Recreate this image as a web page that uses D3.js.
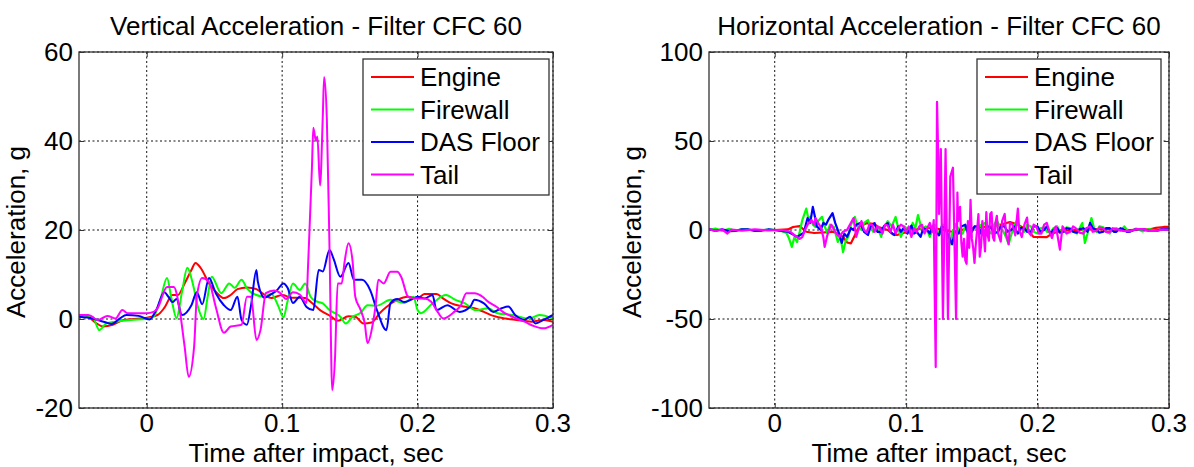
<!doctype html>
<html>
<head>
<meta charset="utf-8"/>
<title>Acceleration - Filter CFC 60</title>
<script src="https://d3js.org/d3.v7.min.js"></script>
<style>
body { margin: 0; background: white; }
text { font-family: 'Liberation Sans', Arial, sans-serif; fill: black; }
</style>
</head>
<body>
<svg id="svg1"></svg>
<script>
// series names and colors (legend order)
const names = ['Engine', 'Firewall', 'DAS Floor', 'Tail']
const colors = ['#ff0000', '#00ff00', '#0000ff', '#ff00ff']

const xTicks = [0, 0.1, 0.2, 0.3]
const xTickLabels = ['0', '0.1', '0.2', '0.3']
const vTicks = [-20, 0, 20, 40, 60]
const hTicks = [-100, -50, 0, 50, 100]

// vertical acceleration, [time s, g]
const vEngine = [[-0.05,0.5],[-0.046,0.9],[-0.037,-1],[-0.032,-1.7],[-0.025,-1.3],[-0.017,-0.2],[-0.002,0.2],[0.008,0.9],[0.013,2.5],[0.019,5.4],[0.023,5.4],[0.028,8],[0.033,11],[0.036,12.6],[0.04,11.4],[0.046,8],[0.052,5.8],[0.057,4.7],[0.062,5.4],[0.067,6.7],[0.074,7.1],[0.081,6.7],[0.087,5.4],[0.092,4.7],[0.1,5.4],[0.107,4.8],[0.117,4.7],[0.122,3.6],[0.128,2],[0.136,0.6],[0.141,-0.4],[0.149,0.6],[0.154,0.5],[0.16,-1],[0.166,-0.8],[0.172,1.3],[0.177,2.7],[0.185,4.3],[0.193,5],[0.2,4.6],[0.205,5.6],[0.214,5.6],[0.219,4.6],[0.225,3.5],[0.234,2.8],[0.242,2.4],[0.249,1.6],[0.256,0.7],[0.265,0.1],[0.273,-0.2],[0.284,-0.6],[0.293,-0.2],[0.3,-0.6]]
const vFirewall = [[-0.05,0.9],[-0.04,0.5],[-0.035,-2.5],[-0.03,-1],[-0.023,-0.6],[-0.012,-0.2],[0,0],[0.005,0.5],[0.01,4.3],[0.015,9.2],[0.018,5],[0.022,0.2],[0.026,6],[0.03,11.5],[0.034,8],[0.038,2.5],[0.042,0],[0.045,5],[0.048,9.5],[0.055,5.8],[0.061,8],[0.065,7],[0.07,8.8],[0.074,6.9],[0.08,5.5],[0.087,5],[0.092,5.7],[0.097,3],[0.101,0.4],[0.104,4],[0.108,8],[0.113,6.5],[0.117,8],[0.121,5],[0.125,4],[0.13,3.5],[0.135,2],[0.143,0.5],[0.147,-1],[0.152,0.5],[0.158,1.4],[0.163,3.1],[0.17,3],[0.18,4.3],[0.19,3.6],[0.197,5],[0.2,2],[0.2025,1.3],[0.211,3.5],[0.221,5.4],[0.228,4.3],[0.235,3.5],[0.243,2],[0.252,2.4],[0.259,1.3],[0.27,0.9],[0.282,0.1],[0.29,0.9],[0.3,0.1]]
const vFloor = [[-0.05,0.5],[-0.04,0.1],[-0.032,-0.6],[-0.026,-1.1],[-0.02,0.1],[-0.015,0.9],[-0.006,0.7],[0.002,-0.1],[0.007,2],[0.013,6],[0.016,5],[0.019,3.8],[0.022,4.5],[0.026,0.9],[0.033,3.1],[0.037,6],[0.041,3.3],[0.046,9.2],[0.051,5.8],[0.057,3.1],[0.062,2],[0.067,5],[0.07,-0.2],[0.074,-1.3],[0.077,3],[0.081,11],[0.082,8.5],[0.087,4.8],[0.092,5.6],[0.096,6.4],[0.101,8],[0.104,7],[0.108,3.6],[0.113,5],[0.118,2.7],[0.123,2],[0.127,11],[0.13,10.7],[0.135,15.5],[0.138,13.5],[0.143,9.5],[0.149,12.6],[0.153,8.8],[0.159,8.8],[0.165,6.5],[0.17,2],[0.177,-2.5],[0.18,3.6],[0.185,4.5],[0.19,3.8],[0.195,4.3],[0.2,5],[0.205,4.6],[0.211,5.4],[0.214,2],[0.222,3.1],[0.231,1.6],[0.239,2.8],[0.242,4.3],[0.249,3.5],[0.256,1.6],[0.262,2.4],[0.267,2.8],[0.272,0.9],[0.279,-0.2],[0.283,0.5],[0.287,-1],[0.293,-0.2],[0.3,0.9]]
const vTail = [[-0.05,0.9],[-0.043,0.9],[-0.036,-0.2],[-0.029,0.7],[-0.023,0.1],[-0.018,2],[-0.014,1.3],[0,1.3],[0.005,1.6],[0.008,2.4],[0.015,7.2],[0.02,7.2],[0.024,2.7],[0.028,-6.2],[0.031,-13],[0.035,-6.2],[0.037,5],[0.041,9.2],[0.046,8.3],[0.051,2.7],[0.057,-3.1],[0.062,-1.7],[0.07,-1.3],[0.074,5],[0.077,5],[0.081,-4.7],[0.084,-2.5],[0.088,5.8],[0.094,6.4],[0.098,6],[0.103,4.5],[0.108,6],[0.113,5.5],[0.118,3.6],[0.119,11],[0.122,34],[0.123,43],[0.125,40],[0.126,41],[0.128,30],[0.13,45.4],[0.131,54.4],[0.133,45],[0.135,15.5],[0.137,-16],[0.139,-9],[0.141,8],[0.144,8],[0.146,12.6],[0.149,17],[0.152,13],[0.154,5],[0.158,2],[0.161,-1],[0.163,-5.4],[0.167,-1],[0.169,3],[0.171,8.8],[0.175,8],[0.18,10.6],[0.185,10.6],[0.188,9.4],[0.193,5],[0.197,4.7],[0.2,4.6],[0.205,4.6],[0.21,3.9],[0.214,2],[0.219,0.1],[0.227,1.6],[0.232,3.1],[0.236,5.8],[0.242,5.8],[0.248,5],[0.252,3.9],[0.258,2.8],[0.263,1.6],[0.27,0.5],[0.279,-0.6],[0.286,-1.6],[0.293,-2.1],[0.3,-1.3]]

// horizontal acceleration, [time s, g]
const hEngine = [[-0.05,0],[0,0],[0.01,0.3],[0.014,1.7],[0.019,2.2],[0.024,-1],[0.03,-1.7],[0.044,-1],[0.048,-2],[0.052,-3.9],[0.055,-7],[0.058,-7.5],[0.061,-3],[0.064,1.7],[0.07,3.9],[0.075,3.5],[0.079,1.7],[0.086,0],[0.09,-2.5],[0.093,-2.8],[0.098,-1.7],[0.106,0],[0.115,1.5],[0.125,0.5],[0.135,-1],[0.145,0.5],[0.155,1.5],[0.165,2],[0.172,3],[0.179,4.5],[0.185,3],[0.192,0],[0.197,-3.9],[0.207,-4],[0.211,-2],[0.218,-0.5],[0.23,0],[0.25,0.5],[0.27,0],[0.285,0.3],[0.29,1.2],[0.296,1.7],[0.3,1.7]]
const hFirewall = [[-0.05,0],[-0.045,0.8],[-0.04,-0.5],[-0.035,0.6],[-0.03,-0.4],[-0.025,0.4],[-0.02,0.3],[-0.015,-0.4],[-0.01,-0.3],[-0.005,0.3],[0,0],[0.005,-0.5],[0.009,-1.7],[0.011,-5],[0.013,-9.5],[0.015,-4],[0.017,-6.7],[0.019,-1],[0.021,5.6],[0.024,12],[0.026,5],[0.027,7.4],[0.029,3],[0.031,1.7],[0.033,5],[0.036,7.4],[0.038,2],[0.04,-1.7],[0.042,3],[0.045,1.7],[0.048,-6.7],[0.05,-4],[0.052,-12.4],[0.054,-6],[0.056,-3.9],[0.058,3],[0.061,7.3],[0.063,2],[0.066,0],[0.068,4],[0.071,5.6],[0.073,1],[0.075,-1],[0.078,2],[0.081,-3.9],[0.083,1],[0.086,5],[0.089,2],[0.092,7.3],[0.094,1],[0.096,-3.9],[0.099,2],[0.101,0],[0.103,-2],[0.105,4],[0.107,1],[0.109,8.4],[0.112,0],[0.115,2],[0.118,-3.9],[0.12,0],[0.122,3],[0.124,-1],[0.126,-2],[0.128,3],[0.13,2],[0.133,-8.4],[0.135,-2],[0.138,3.4],[0.14,0],[0.143,-2],[0.145,2],[0.148,3],[0.15,-1],[0.152,2],[0.154,0],[0.157,3],[0.16,4],[0.162,0],[0.165,-2],[0.167,3],[0.169,5.6],[0.171,2],[0.174,-1],[0.176,-4],[0.178,-8],[0.181,0],[0.184,5],[0.187,1],[0.19,-1],[0.192,3],[0.195,2],[0.197,-1],[0.2,-2],[0.202,1],[0.205,1.5],[0.207,-1],[0.21,-1.5],[0.212,1],[0.215,2],[0.217,-1],[0.22,-1],[0.222,1.5],[0.225,1],[0.227,-1],[0.23,-2],[0.232,1],[0.234,3.9],[0.236,-7.3],[0.238,-2],[0.241,6.7],[0.243,1],[0.245,-1],[0.247,2],[0.25,1.5],[0.252,-1],[0.255,-2],[0.257,0.5],[0.26,1],[0.263,-0.5],[0.266,2],[0.268,0],[0.27,-1],[0.275,0.8],[0.28,-0.8],[0.285,0.5],[0.29,-0.5],[0.295,0.3],[0.3,0]]
const hFloor = [[-0.05,0.5],[-0.045,-0.5],[-0.04,0.4],[-0.035,-0.6],[-0.03,-0.5],[-0.025,0.4],[-0.02,0.3],[-0.015,-0.5],[-0.01,-0.3],[-0.005,0.3],[0,0],[0.005,-0.5],[0.01,-1],[0.014,-2.5],[0.017,-3.9],[0.02,-2.5],[0.022,-1.7],[0.025,6.7],[0.027,4],[0.029,13],[0.031,6],[0.032,2],[0.035,0],[0.037,4],[0.039,3],[0.041,6],[0.044,9.5],[0.046,4],[0.047,2],[0.049,-2],[0.051,-7.3],[0.053,-2],[0.055,-3.9],[0.058,1],[0.06,0],[0.062,3],[0.065,4],[0.068,-1],[0.071,-2.8],[0.073,2],[0.076,3.9],[0.078,-1],[0.081,-1],[0.083,2],[0.086,3.9],[0.088,-1],[0.091,-2.8],[0.094,2],[0.096,-1],[0.098,1],[0.101,-2],[0.104,2.5],[0.106,-2],[0.108,-1],[0.111,-3.9],[0.113,1],[0.116,0],[0.118,-2],[0.12,2],[0.122,-1],[0.125,-3],[0.127,2],[0.13,1],[0.132,-3],[0.135,-8],[0.137,-1],[0.14,-2],[0.142,2],[0.145,3],[0.147,-2],[0.15,-1],[0.152,2],[0.155,2],[0.157,-2],[0.16,-2],[0.162,2],[0.165,1],[0.167,-2],[0.17,-1],[0.172,2],[0.175,2],[0.177,-1],[0.18,0],[0.182,2],[0.185,-2],[0.187,1],[0.19,1],[0.192,-1],[0.195,-1],[0.197,2],[0.2,2],[0.202,-1],[0.205,0],[0.207,2],[0.21,-2],[0.212,0],[0.215,1],[0.217,-1.5],[0.22,-1],[0.222,1],[0.225,0.5],[0.227,-1],[0.23,-1.5],[0.232,0.5],[0.235,1],[0.238,-1],[0.24,4],[0.242,1],[0.245,0],[0.247,-1.5],[0.25,-1],[0.252,1],[0.255,1],[0.258,-1],[0.26,-1],[0.263,1],[0.265,0.5],[0.268,-1],[0.27,-1],[0.275,0.5],[0.28,0.5],[0.285,-0.5],[0.29,-0.5],[0.295,0.5],[0.3,0.3]]
const hTail = [[-0.05,0.5],[-0.045,-0.5],[-0.04,0.3],[-0.036,-2],[-0.033,0.2],[-0.025,-0.3],[-0.015,0.3],[-0.005,-0.2],[0.005,0],[0.012,-1],[0.015,-3],[0.017,-3.9],[0.019,-5],[0.021,-4],[0.023,0],[0.025,3],[0.028,5.6],[0.03,3],[0.031,6.7],[0.033,4],[0.035,1.7],[0.037,-4],[0.038,-9.5],[0.04,-3],[0.041,-1],[0.043,3],[0.044,1.7],[0.046,-1],[0.049,-3.9],[0.052,-1],[0.055,0],[0.058,4],[0.06,6.7],[0.062,-3.9],[0.064,1],[0.066,5],[0.068,0],[0.07,-1.5],[0.072,3],[0.074,3],[0.076,-1],[0.078,2],[0.08,1],[0.082,-2],[0.084,3],[0.086,2.5],[0.088,-1],[0.09,3],[0.092,-2],[0.094,1],[0.096,3],[0.098,2],[0.1,-1],[0.102,2],[0.104,-3.9],[0.106,1],[0.108,-1],[0.11,2],[0.112,3],[0.114,-2],[0.116,1],[0.118,4],[0.12,-1],[0.121,5.6],[0.1225,-77],[0.1235,72],[0.1245,37],[0.125,9],[0.1264,45.5],[0.128,-50],[0.13,45.5],[0.1318,-50],[0.1336,30],[0.1356,35],[0.138,-50],[0.139,21],[0.1395,5],[0.141,13],[0.142,-7],[0.143,-15],[0.144,-5],[0.145,-17],[0.146,-19],[0.147,5],[0.148,-10],[0.149,17],[0.15,-5],[0.151,-10],[0.152,-18.5],[0.153,-8],[0.154,0],[0.155,9],[0.156,-15],[0.157,-9],[0.158,5],[0.159,-2],[0.16,-12],[0.161,10],[0.162,-3],[0.163,-6],[0.164,9],[0.165,10],[0.166,-4],[0.167,-6],[0.168,4],[0.169,8],[0.17,-2],[0.172,-6.5],[0.173,5],[0.175,9],[0.176,-2],[0.178,-8],[0.179,4],[0.181,3],[0.183,-3],[0.185,12],[0.186,0],[0.188,-4],[0.19,3],[0.192,7],[0.193,-1],[0.195,-3],[0.197,3],[0.199,2],[0.201,-2],[0.203,-2],[0.205,3],[0.207,4],[0.209,-1],[0.211,-4.5],[0.213,1],[0.214,2],[0.217,-11],[0.219,2],[0.22,1],[0.222,-2],[0.225,-1],[0.227,2],[0.23,0.5],[0.232,-1.5],[0.235,-2],[0.237,1],[0.24,2],[0.242,-1],[0.245,-0.5],[0.247,1.5],[0.25,1],[0.252,-1],[0.255,-1],[0.257,1],[0.26,0.5],[0.265,-0.5],[0.27,-0.8],[0.275,0.5],[0.28,0.5],[0.285,-0.5],[0.29,-0.5],[0.295,0.3],[0.3,0]]

const width = 1194
const height = 467
const fs = 26

const svg = d3.select('#svg1')
    .attr('width', width)
    .attr('height', height)

function panel(id, box, title, yDomain, yTicks, series, curve, lineWidth, legendBox, yLabelX) {
    const x = d3.scaleLinear().domain([-0.05, 0.3]).range([box.x0, box.x1])
    const y = d3.scaleLinear().domain(yDomain).range([box.y1, box.y0])
    const g = svg.append('g')

    g.append('clipPath').attr('id', 'clip' + id)
        .append('rect')
        .attr('x', box.x0).attr('y', box.y0)
        .attr('width', box.x1 - box.x0).attr('height', box.y1 - box.y0)

    // dotted grid
    g.append('g').selectAll('line').data(xTicks).join('line')
        .attr('x1', d => x(d)).attr('x2', d => x(d))
        .attr('y1', box.y0).attr('y2', box.y1)
        .style('stroke', '#111').style('stroke-dasharray', '2,2.5')
    g.append('g').selectAll('line').data(yTicks).join('line')
        .attr('x1', box.x0).attr('x2', box.x1)
        .attr('y1', d => y(d)).attr('y2', d => y(d))
        .style('stroke', '#111').style('stroke-dasharray', '2,2.5')

    // axes with inner ticks, labels drawn separately
    const axes = [
        [d3.axisBottom(x), `translate(0,${box.y1})`],
        [d3.axisTop(x), `translate(0,${box.y0})`],
    ]
    axes.forEach(([ax, tr]) => {
        const a = g.append('g').attr('transform', tr)
            .call(ax.tickValues(xTicks).tickSize(-5).tickFormat(''))
        a.select('.domain').remove()
        a.selectAll('line').style('stroke', '#333')
    })
    const yaxes = [
        [d3.axisLeft(y), `translate(${box.x0},0)`],
        [d3.axisRight(y), `translate(${box.x1},0)`],
    ]
    yaxes.forEach(([ax, tr]) => {
        const a = g.append('g').attr('transform', tr)
            .call(ax.tickValues(yTicks).tickSize(-5).tickFormat(''))
        a.select('.domain').remove()
        a.selectAll('line').style('stroke', '#333')
    })

    // data lines
    const line = d3.line().x(d => x(d[0])).y(d => y(d[1])).curve(curve)
    g.append('g').attr('clip-path', `url(#clip${id})`)
        .selectAll('path').data(series).join('path')
        .attr('d', d => line(d))
        .style('fill', 'none')
        .style('stroke', (d, i) => colors[i])
        .style('stroke-width', lineWidth)
        .style('stroke-linejoin', 'round')

    // frame
    g.append('rect')
        .attr('x', box.x0).attr('y', box.y0)
        .attr('width', box.x1 - box.x0).attr('height', box.y1 - box.y0)
        .style('fill', 'none').style('stroke', '#333').style('stroke-width', 1.3)

    // tick labels
    g.append('g').selectAll('text').data(xTicks).join('text')
        .attr('x', d => x(d)).attr('y', box.y1 + 24)
        .attr('text-anchor', 'middle').style('font-size', fs + 'px')
        .text((d, i) => xTickLabels[i])
    g.append('g').selectAll('text').data(yTicks).join('text')
        .attr('x', box.x0 - 6).attr('y', d => y(d) + 9)
        .attr('text-anchor', 'end').style('font-size', fs + 'px')
        .text(d => d)

    // titles
    const cx = (box.x0 + box.x1) / 2
    g.append('text').attr('x', cx).attr('y', 35)
        .attr('text-anchor', 'middle').style('font-size', fs + 'px').text(title)
    g.append('text').attr('x', cx).attr('y', 462)
        .attr('text-anchor', 'middle').style('font-size', fs + 'px').text('Time after impact, sec')
    g.append('text')
        .attr('transform', `translate(${yLabelX},${(box.y0 + box.y1) / 2 + 2}) rotate(-90)`)
        .attr('text-anchor', 'middle').style('font-size', fs + 'px').text('Acceleration, g')

    // legend
    const lg = g.append('g')
    lg.append('rect')
        .attr('x', legendBox.x).attr('y', legendBox.y)
        .attr('width', legendBox.w).attr('height', legendBox.h)
        .style('fill', 'white').style('stroke', '#333').style('stroke-width', 1.3)
    const rows = lg.selectAll('g').data(names).join('g')
        .attr('transform', (d, i) => `translate(${legendBox.x},${legendBox.y + 18 + i * 32.5})`)
    rows.append('line')
        .attr('x1', 8).attr('x2', 51).attr('y1', 0).attr('y2', 0)
        .style('stroke', (d, i) => colors[i]).style('stroke-width', 1.8)
    rows.append('text')
        .attr('x', 57).attr('y', 9)
        .style('font-size', fs + 'px')
        .text(d => d)
}

panel('v', {x0: 79, x1: 553, y0: 52, y1: 408}, 'Vertical Acceleration - Filter CFC 60',
    [-20, 60], vTicks, [vEngine, vFirewall, vFloor, vTail], d3.curveMonotoneX, 2,
    {x: 363, y: 59, w: 186, h: 136}, 25)

panel('h', {x0: 709, x1: 1169, y0: 52, y1: 408}, 'Horizontal Acceleration - Filter CFC 60',
    [-100, 100], hTicks, [hEngine, hFirewall, hFloor, hTail], d3.curveLinear, 2.2,
    {x: 977, y: 59, w: 184, h: 135}, 641)
</script>
</body>
</html>
